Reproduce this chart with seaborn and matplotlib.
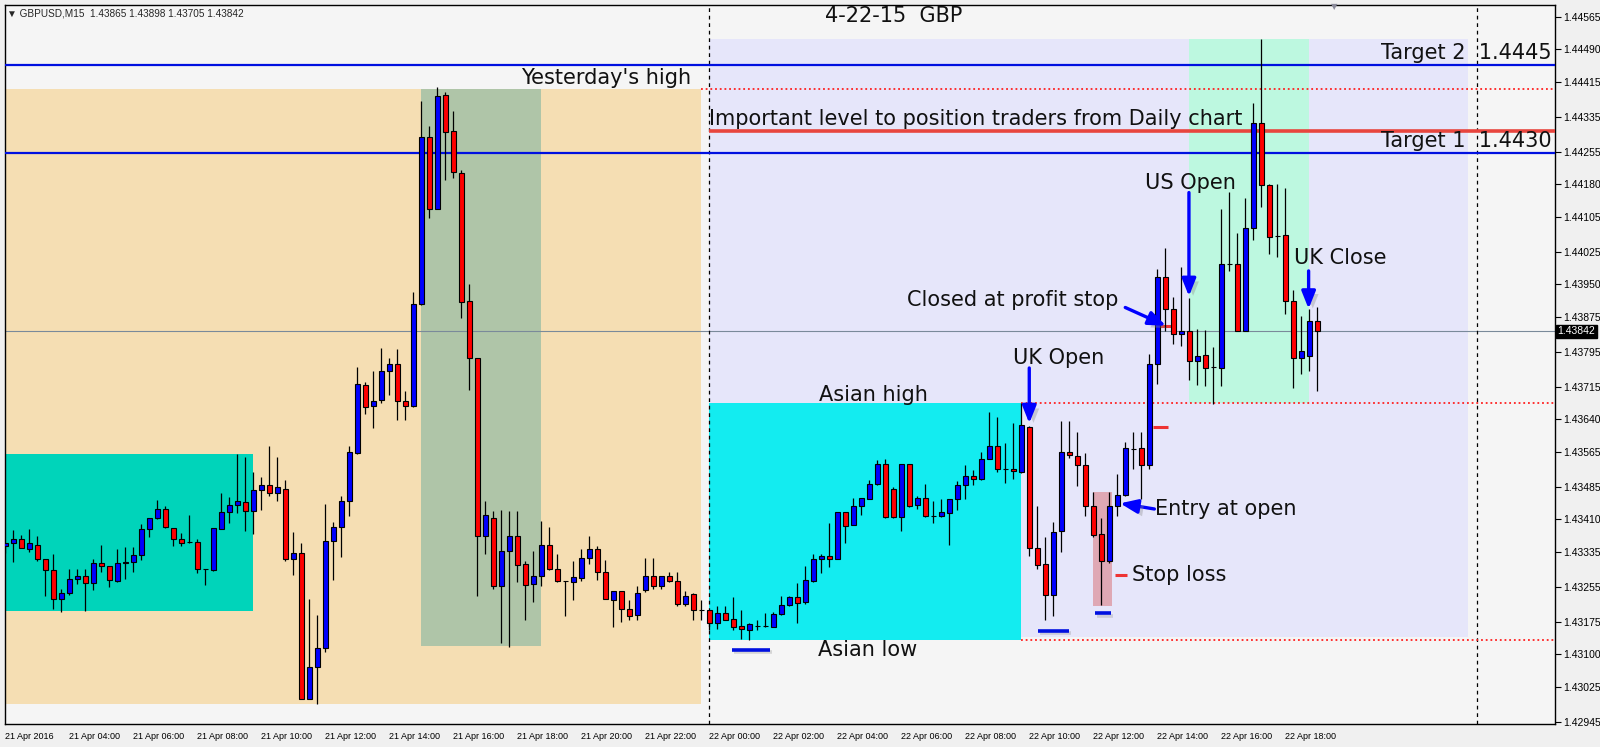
import numpy as np
import pandas as pd
import matplotlib
matplotlib.use("Agg")
import matplotlib.pyplot as plt
import matplotlib.patheffects as pe
import seaborn as sns
from matplotlib.patches import Rectangle
import matplotlib.transforms as mtransforms

# GBPUSD M15 candles, 21 Apr 02:00 -> 22 Apr 19:00
opens = [1.43349, 1.43357, 1.43364, 1.43343, 1.43352, 1.43318, 1.43293, 1.43228, 1.43240, 1.43274,
         1.43281, 1.43263, 1.43311, 1.43304, 1.43269, 1.43309, 1.43313, 1.43329, 1.43389, 1.43414,
         1.43435, 1.43391, 1.43366, 1.43358, 1.43359, 1.43295, 1.43293, 1.43389, 1.43426, 1.43444,
         1.43451, 1.43429, 1.43477, 1.43489, 1.43470, 1.43481, 1.43320, 1.43332, 1.42998, 1.43072,
         1.43114, 1.43361, 1.43392, 1.43453, 1.43562, 1.43718, 1.43671, 1.43685, 1.43750, 1.43768,
         1.43682, 1.43671, 1.43905, 1.44289, 1.44123, 1.44386, 1.44302, 1.44205, 1.43911, 1.43780,
         1.43371, 1.43414, 1.43257, 1.43338, 1.43371, 1.43308, 1.43262, 1.43280, 1.43352, 1.43297,
         1.43268, 1.43267, 1.43276, 1.43322, 1.43342, 1.43290, 1.43226, 1.43245, 1.43205, 1.43190,
         1.43247, 1.43280, 1.43257, 1.43280, 1.43268, 1.43216, 1.43238, 1.43203, 1.43203, 1.43173,
         1.43194, 1.43182, 1.43165, 1.43157, 1.43165, 1.43165, 1.43163, 1.43192, 1.43213, 1.43231,
         1.43221, 1.43268, 1.43320, 1.43326, 1.43320, 1.43426, 1.43398, 1.43440, 1.43457, 1.43492,
         1.43538, 1.43481, 1.43416, 1.43538, 1.43444, 1.43459, 1.43418, 1.43418, 1.43424, 1.43457,
         1.43488, 1.43509, 1.43502, 1.43548, 1.43578, 1.43527, 1.43527, 1.43519, 1.43622, 1.43345,
         1.43308, 1.43236, 1.43384, 1.43566, 1.43555, 1.43534, 1.43442, 1.43376, 1.43314, 1.43442,
         1.43466, 1.43571, 1.43573, 1.43534, 1.43767, 1.43966, 1.43894, 1.43835, 1.43842, 1.43775,
         1.43787, 1.43760, 1.43758, 1.43996, 1.43998, 1.43842, 1.44080, 1.44321, 1.44178, 1.44061,
         1.44064, 1.43913, 1.43780, 1.43785, 1.43865]
highs = [1.43357, 1.43385, 1.43375, 1.43387, 1.43372, 1.43318, 1.43330, 1.43250, 1.43297, 1.43295,
         1.43295, 1.43320, 1.43351, 1.43304, 1.43343, 1.43346, 1.43346, 1.43399, 1.43414, 1.43454,
         1.43442, 1.43391, 1.43378, 1.43420, 1.43364, 1.43297, 1.43391, 1.43470, 1.43461, 1.43560,
         1.43554, 1.43519, 1.43507, 1.43578, 1.43554, 1.43500, 1.43380, 1.43356, 1.43228, 1.43191,
         1.43446, 1.43403, 1.43463, 1.43578, 1.43761, 1.43725, 1.43750, 1.43803, 1.43780, 1.43801,
         1.43706, 1.43933, 1.44372, 1.44315, 1.44403, 1.44393, 1.44348, 1.44213, 1.43950, 1.43780,
         1.43452, 1.43429, 1.43431, 1.43429, 1.43429, 1.43314, 1.43338, 1.43406, 1.43393, 1.43330,
         1.43268, 1.43314, 1.43341, 1.43371, 1.43348, 1.43316, 1.43245, 1.43245, 1.43225, 1.43256,
         1.43321, 1.43321, 1.43280, 1.43289, 1.43289, 1.43245, 1.43240, 1.43226, 1.43203, 1.43211,
         1.43211, 1.43231, 1.43203, 1.43173, 1.43180, 1.43194, 1.43198, 1.43234, 1.43234, 1.43263,
         1.43303, 1.43330, 1.43330, 1.43402, 1.43426, 1.43426, 1.43460, 1.43460, 1.43500, 1.43546,
         1.43550, 1.43485, 1.43538, 1.43538, 1.43464, 1.43491, 1.43452, 1.43458, 1.43458, 1.43498,
         1.43535, 1.43523, 1.43565, 1.43657, 1.43646, 1.43585, 1.43632, 1.43678, 1.43625, 1.43442,
         1.43369, 1.43405, 1.43636, 1.43636, 1.43612, 1.43563, 1.43473, 1.43413, 1.43473, 1.43515,
         1.43588, 1.43612, 1.43612, 1.43790, 1.43986, 1.44033, 1.43920, 1.43991, 1.43918, 1.43847,
         1.43845, 1.43806, 1.44124, 1.44163, 1.44068, 1.44149, 1.44367, 1.44515, 1.44180, 1.44180,
         1.44172, 1.43937, 1.43877, 1.43894, 1.43898]
lows = [1.43334, 1.43313, 1.43345, 1.43336, 1.43314, 1.43234, 1.43204, 1.43198, 1.43237, 1.43262,
        1.43200, 1.43247, 1.43290, 1.43255, 1.43267, 1.43273, 1.43290, 1.43316, 1.43370, 1.43411,
        1.43391, 1.43349, 1.43349, 1.43356, 1.43287, 1.43260, 1.43292, 1.43389, 1.43402, 1.43425,
        1.43384, 1.43377, 1.43432, 1.43463, 1.43453, 1.43314, 1.43283, 1.42998, 1.42998, 1.42986,
        1.43105, 1.43270, 1.43323, 1.43417, 1.43560, 1.43652, 1.43619, 1.43678, 1.43695, 1.43638,
        1.43638, 1.43669, 1.43902, 1.44102, 1.44123, 1.44191, 1.44195, 1.43872, 1.43708, 1.43235,
        1.43330, 1.43251, 1.43126, 1.43117, 1.43267, 1.43179, 1.43221, 1.43257, 1.43294, 1.43266,
        1.43188, 1.43226, 1.43268, 1.43308, 1.43270, 1.43228, 1.43164, 1.43174, 1.43180, 1.43179,
        1.43244, 1.43250, 1.43250, 1.43266, 1.43212, 1.43210, 1.43179, 1.43179, 1.43156, 1.43159,
        1.43179, 1.43156, 1.43136, 1.43133, 1.43156, 1.43163, 1.43163, 1.43190, 1.43211, 1.43171,
        1.43215, 1.43267, 1.43287, 1.43301, 1.43319, 1.43356, 1.43398, 1.43421, 1.43456, 1.43489,
        1.43414, 1.43414, 1.43384, 1.43439, 1.43433, 1.43416, 1.43402, 1.43416, 1.43352, 1.43431,
        1.43458, 1.43490, 1.43500, 1.43548, 1.43518, 1.43493, 1.43503, 1.43517, 1.43325, 1.43296,
        1.43178, 1.43189, 1.43335, 1.43551, 1.43486, 1.43418, 1.43369, 1.43214, 1.43311, 1.43418,
        1.43463, 1.43525, 1.43457, 1.43527, 1.43722, 1.43842, 1.43813, 1.43809, 1.43730, 1.43719,
        1.43716, 1.43675, 1.43716, 1.43981, 1.43842, 1.43842, 1.44052, 1.44127, 1.44020, 1.44013,
        1.43881, 1.43712, 1.43745, 1.43751, 1.43705]
closes = [1.43357, 1.43364, 1.43345, 1.43355, 1.43318, 1.43293, 1.43228, 1.43240, 1.43274, 1.43281,
          1.43263, 1.43311, 1.43302, 1.43270, 1.43309, 1.43313, 1.43329, 1.43389, 1.43414, 1.43435,
          1.43393, 1.43366, 1.43357, 1.43358, 1.43295, 1.43295, 1.43391, 1.43426, 1.43444, 1.43453,
          1.43429, 1.43477, 1.43489, 1.43470, 1.43484, 1.43320, 1.43332, 1.42998, 1.43072, 1.43114,
          1.43361, 1.43392, 1.43453, 1.43564, 1.43721, 1.43668, 1.43683, 1.43751, 1.43768, 1.43682,
          1.43671, 1.43905, 1.44289, 1.44123, 1.44382, 1.44301, 1.44209, 1.43910, 1.43782, 1.43373,
          1.43420, 1.43257, 1.43338, 1.43371, 1.43306, 1.43260, 1.43280, 1.43352, 1.43297, 1.43268,
          1.43268, 1.43278, 1.43322, 1.43342, 1.43290, 1.43228, 1.43245, 1.43205, 1.43187, 1.43242,
          1.43280, 1.43257, 1.43280, 1.43268, 1.43215, 1.43233, 1.43203, 1.43203, 1.43173, 1.43194,
          1.43180, 1.43163, 1.43159, 1.43169, 1.43165, 1.43165, 1.43192, 1.43213, 1.43231, 1.43218,
          1.43270, 1.43318, 1.43326, 1.43320, 1.43426, 1.43395, 1.43440, 1.43459, 1.43492, 1.43538,
          1.43416, 1.43416, 1.43538, 1.43441, 1.43459, 1.43418, 1.43418, 1.43426, 1.43458, 1.43488,
          1.43509, 1.43502, 1.43550, 1.43578, 1.43527, 1.43527, 1.43521, 1.43627, 1.43345, 1.43306,
          1.43236, 1.43382, 1.43566, 1.43557, 1.43534, 1.43442, 1.43374, 1.43314, 1.43442, 1.43466,
          1.43573, 1.43571, 1.43534, 1.43767, 1.43966, 1.43894, 1.43835, 1.43842, 1.43775, 1.43785,
          1.43758, 1.43760, 1.43998, 1.43996, 1.43842, 1.44080, 1.44321, 1.44178, 1.44059, 1.44061,
          1.43913, 1.43780, 1.43796, 1.43866, 1.43842]

# price levels drawn on the chart
target_2 = 1.44455
target_1 = 1.44253
important_level = 1.44302
yesterday_high = 1.44399
yesterday_low = 1.42986
asian_high = 1.43678
asian_low = 1.43134
day_high = 1.44515
bid = 1.43842

# right axis labels and bottom time labels
price_ticks = [1.44565, 1.44490, 1.44415, 1.44335, 1.44255, 1.44180, 1.44105, 1.44025,
               1.43950, 1.43875, 1.43795, 1.43715, 1.43640, 1.43565, 1.43485, 1.43410,
               1.43335, 1.43255, 1.43175, 1.43100, 1.43025, 1.42945]
time_labels = ['21 Apr 2016', '21 Apr 04:00', '21 Apr 06:00', '21 Apr 08:00', '21 Apr 10:00',
               '21 Apr 12:00', '21 Apr 14:00', '21 Apr 16:00', '21 Apr 18:00', '21 Apr 20:00',
               '21 Apr 22:00', '22 Apr 00:00', '22 Apr 02:00', '22 Apr 04:00', '22 Apr 06:00',
               '22 Apr 08:00', '22 Apr 10:00', '22 Apr 12:00', '22 Apr 14:00', '22 Apr 16:00',
               '22 Apr 18:00']

#%%
df = pd.DataFrame({'open': opens, 'high': highs, 'low': lows, 'close': closes})
df['time'] = pd.date_range('2016-04-21 02:00', periods=len(df), freq='15min')
t0 = pd.Timestamp('2016-04-21 00:00')
df['hour'] = (df['time'] - t0) / pd.Timedelta(hours=1)
tick_hours = [(pd.Timestamp('2016-04-21 02:00') + pd.Timedelta(hours=2 * k) - t0) / pd.Timedelta(hours=1)
              for k in range(len(time_labels))]

sns.set_theme(style='white')
plt.rcParams['font.family'] = ['DejaVu Sans']

fig = plt.figure(figsize=(16, 7.47), dpi=100, facecolor='#f0f0f0')
ax = fig.add_axes([5 / 1600, 23 / 747, 1550 / 1600, 719 / 747])
ax.set_facecolor('#f5f5f5')
x_left, x_right = 1.99, 50.43
ax.set_xlim(x_left, x_right)
ax.set_ylim(1.42940, 1.44592)

# session boxes
def box(x0, x1, y0, y1, color, z=1):
    ax.add_patch(Rectangle((x0, y0), x1 - x0, y1 - y0, facecolor=color, edgecolor='none', zorder=z))

box(x_left, 23.74, yesterday_low, yesterday_high, '#f5deb3')
box(x_left, 9.74, 1.43200, 1.43560, '#00d4ba', 1.1)
box(15.0, 18.75, 1.43119, yesterday_high, '#afc5a8', 1.1)
box(24.0, 47.7, 1.43140, day_high, '#e6e6fa')
box(24.0, 33.74, asian_low, asian_high, '#13ecf0', 1.1)
box(39.0, 42.75, asian_high, day_high, '#bdf8e0', 1.1)
box(36.0, 36.6, 1.43212, 1.43472, '#dfa8b4', 1.1)

shadow = [pe.SimpleLineShadow(offset=(1.5, -1.5), shadow_color='#9a9a9a', alpha=0.35), pe.Normal()]

# horizontal levels
ax.axhline(target_2, color='#0010e0', lw=1.6, zorder=3)
ax.axhline(target_1, color='#0010e0', lw=1.6, zorder=3)
ax.axhline(bid, color='#7a8a9a', lw=0.8, zorder=2)
ax.hlines(important_level, 24.0, x_right, color='#e8453e', lw=2.6, zorder=3)
dot = (0, (1, 1.6))
ax.hlines(yesterday_high, 23.74, x_right, color='#ff2020', lw=1.3, linestyles=[dot], zorder=3)
ax.hlines([asian_high, asian_low], 33.74, x_right, color='#ff2020', lw=1.3, linestyles=[dot], zorder=3)
ax.axvline(24.0, color='black', lw=0.9, ls=(0, (3, 3)), zorder=2)
ax.axvline(48.0, color='black', lw=0.9, ls=(0, (3, 3)), zorder=2)

# small marker dashes
ax.hlines([1.43110, 1.43153, 1.43194], [24.71, 34.27, 36.04], [25.91, 35.23, 36.56],
          color='#0010e0', lw=2.6, zorder=4, path_effects=shadow)
ax.hlines([1.43622, 1.43282, 1.43855], [37.88, 36.69, 38.09], [38.32, 37.05, 38.51],
          color='#ee3333', lw=2.2, zorder=4)

# candles
body_colors = np.where(df['close'] > df['open'], '#0000ff',
                       np.where(df['close'] < df['open'], '#ff0000', 'black'))
ax.vlines(df['hour'], df['low'], df['high'], color='black', lw=0.9, zorder=5)
ax.bar(df['hour'], df['close'] - df['open'], bottom=df['open'], width=0.15,
       color=body_colors, edgecolor='black', linewidth=0.8, zorder=6)

# annotations
txt = dict(fontsize=15, color='#111111', va='center', zorder=8)
ax.text(29.75, 1.44567, '4-22-15  GBP', ha='center', **txt)
ax.text(50.34, 1.44482, 'Target 2  1.4445', ha='right', **txt)
ax.text(50.34, 1.44279, 'Target 1  1.4430', ha='right', **txt)
ax.text(18.13, 1.44425, "Yesterday's high", ha='left', **txt)
ax.text(24.0, 1.44331, 'Important level to position traders from Daily chart', ha='left', **txt)
ax.text(39.03, 1.44183, 'US Open', ha='center', **txt)
ax.text(42.28, 1.44010, 'UK Close', ha='left', **txt)
ax.text(36.78, 1.43914, 'Closed at profit stop', ha='right', **txt)
ax.text(33.49, 1.43781, 'UK Open', ha='left', **txt)
ax.text(27.44, 1.43695, 'Asian high', ha='left', **txt)
ax.text(27.41, 1.43110, 'Asian low', ha='left', **txt)
ax.text(37.94, 1.43434, 'Entry at open', ha='left', **txt)
ax.text(37.2, 1.43282, 'Stop loss', ha='left', **txt)

arrow = dict(arrowstyle='-|>,head_width=0.32,head_length=0.8', color='#0000ff', lw=2.4,
             shrinkA=0, shrinkB=0, mutation_scale=13)
arrows = [((38.99, 1.44161), (38.99, 1.43923)),
          ((42.73, 1.43981), (42.73, 1.43894)),
          ((37.00, 1.43897), (38.27, 1.43855)),
          ((34.00, 1.43758), (34.00, 1.43631)),
          ((37.91, 1.43434), (36.84, 1.43447))]
for start, tip in arrows:
    ann = ax.annotate('', xy=tip, xytext=start, arrowprops=arrow, zorder=9)
    ann.arrow_patch.set_path_effects([pe.SimplePatchShadow(offset=(3, -3), shadow_rgbFace='#8a8a8a',
                                                           alpha=0.35), pe.Normal()])

# axes styling
for s in ax.spines.values():
    s.set_color('black')
    s.set_linewidth(1.0)
ax.yaxis.tick_right()
ax.set_yticks(price_ticks)
ax.set_yticklabels([f'{p:.5f}' for p in price_ticks], fontfamily='Liberation Sans')
ax.tick_params(axis='y', direction='out', length=4, width=0.8, labelsize=7.5, pad=2, colors='black')
ax.set_xticks(tick_hours)
ax.set_xticklabels(time_labels, ha='left', fontfamily='Liberation Sans')
ax.tick_params(axis='x', direction='out', length=4, width=0.8, labelsize=6.5, pad=2, colors='black')

trans = mtransforms.blended_transform_factory(ax.transAxes, ax.transData)
ax.text(1.0015, bid, f'{bid:.5f}', transform=trans, fontsize=7.5, color='white', va='center',
        ha='left', fontfamily='Liberation Sans',
        bbox=dict(facecolor='black', edgecolor='black', pad=1.2), zorder=10)

fig.text(7 / 1600, 1 - 13 / 747, '\u25bc GBPUSD,M15  1.43865 1.43898 1.43705 1.43842',
         fontsize=7.2, va='center', family=['Liberation Sans', 'DejaVu Sans'])
fig.text(1334 / 1600, 1 - 7 / 747, '\u25bc', fontsize=6, color='#8a8a9a', ha='center', va='center')

plt.savefig('out.png', dpi=100, facecolor=fig.get_facecolor())
